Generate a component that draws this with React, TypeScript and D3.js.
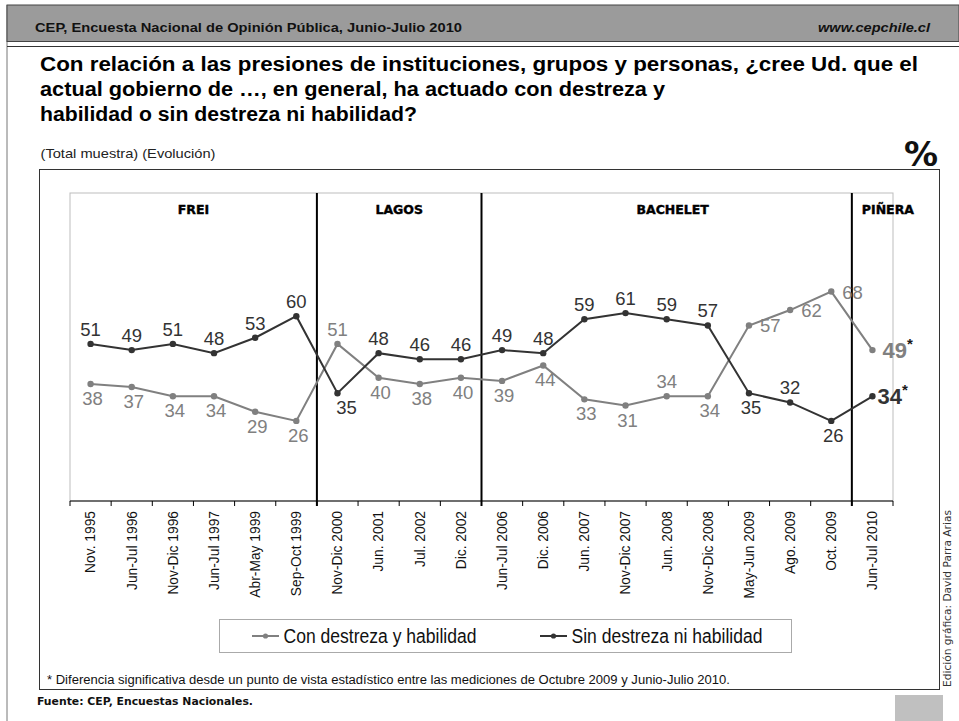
import React from "react";
import * as d3 from "d3";

const categories = [
  "Nov. 1995", "Jun-Jul 1996", "Nov-Dic 1996", "Jun-Jul 1997", "Abr-May 1999", "Sep-Oct 1999",
  "Nov-Dic 2000", "Jun. 2001", "Jul. 2002", "Dic. 2002",
  "Jun-Jul 2006", "Dic. 2006", "Jun. 2007", "Nov-Dic 2007", "Jun. 2008", "Nov-Dic 2008",
  "May-Jun 2009", "Ago. 2009", "Oct. 2009",
  "Jun-Jul 2010",
];
const conDestreza = [38, 37, 34, 34, 29, 26, 51, 40, 38, 40, 39, 44, 33, 31, 34, 34, 57, 62, 68, 49];
const sinDestreza = [51, 49, 51, 48, 53, 60, 35, 48, 46, 46, 49, 48, 59, 61, 59, 57, 35, 32, 26, 34];
const periodNames = ["FREI", "LAGOS", "BACHELET", "PIÑERA"];
const periodStarts = ["Nov. 1995", "Nov-Dic 2000", "Jun-Jul 2006", "Jun-Jul 2010"];
const seriesNames = ["Con destreza y habilidad", "Sin destreza ni habilidad"];
// label side: a = above, b = below, r = right
const conLabelSide = ["b","b","b","b","b","b","a","b","b","b","b","b","b","b","a","b","r","r","r","r"];
const sinLabelSide = ["a","a","a","a","a","a","b","a","a","a","a","a","a","a","a","a","b","a","b","r"];

const FONT = "'Liberation Sans', Arial, sans-serif";
const GRAY = "#808080";
const DARK = "#333333";

export default function App() {
  const x = d3.scaleBand<string>().domain(categories).range([70, 893]);
  const y = d3.scaleLinear().domain([0, 100]).range([501, 193]);
  const cx = (c: string) => (x(c) as number) + x.bandwidth() / 2;
  const line = d3
    .line<number>()
    .x((_, i) => cx(categories[i]))
    .y((d) => y(d));

  const boundaries = categories.map((c) => x(c) as number).concat([893]);
  const sepX = periodStarts.slice(1).map((c) => x(c) as number);
  const periodBounds = periodStarts.map((c, i) => [
    x(c) as number,
    i + 1 < periodStarts.length ? (x(periodStarts[i + 1]) as number) : 893,
  ]);

  const renderLabels = (vals: number[], sides: string[], color: string, key: string) =>
    vals.map((v, i) => {
      const px = cx(categories[i]);
      const py = y(v);
      const last = i === vals.length - 1;
      const side = sides[i];
      if (last) {
        return (
          <text key={key + i} x={px + (key === "con" ? 10 : 5)} y={py + 8} fill={color}
            fontFamily={FONT} fontSize={22} fontWeight="bold">
            {v}
            <tspan fontSize={15} dy={-9} fill="#1a1a1a">*</tspan>
          </text>
        );
      }
      let tx = px, ty = py, anchor = "middle";
      if (side === "a") { ty = py - 8; }
      else if (side === "b") { ty = py + 21; tx = px + (i === 6 ? 9 : 2); }
      else { tx = px + 11; ty = py + 7; anchor = "start"; }
      return (
        <text key={key + i} x={tx} y={ty} fill={color} textAnchor={anchor}
          fontFamily={FONT} fontSize={18.5}>
          {v}
        </text>
      );
    });

  return (
    <svg width={959} height={721} style={{ position: "absolute", left: 0, top: 0, background: "#fff" }}>
      {/* page frame & header */}
      <line x1={7} y1={5} x2={7} y2={721} stroke="#777" strokeWidth={1} />
      <rect x={7} y={5} width={952} height={36.5} fill="#9b9b9b" stroke="#444" strokeWidth={1} />
      <line x1={7} y1={46.5} x2={959} y2={46.5} stroke="#333" strokeWidth={1.2} />
      <text x={35} y={32} fontFamily={FONT} fontSize={13} fontWeight="bold" fill="#111"
        textLength={427} lengthAdjust="spacingAndGlyphs">
        CEP, Encuesta Nacional de Opinión Pública, Junio-Julio 2010
      </text>
      <text x={818} y={32} fontFamily={FONT} fontSize={13} fontWeight="bold"
        fontStyle="italic" fill="#111" textLength={112} lengthAdjust="spacingAndGlyphs">
        www.cepchile.cl
      </text>

      {/* title */}
      <g fontFamily={FONT} fontSize={20} fontWeight="bold" fill="#000">
        <text x={40} y={70.5} textLength={878} lengthAdjust="spacingAndGlyphs">Con relación a las presiones de instituciones, grupos y personas, ¿cree Ud. que el</text>
        <text x={40} y={95.5} textLength={625} lengthAdjust="spacingAndGlyphs">actual gobierno de …, en general, ha actuado con destreza y</text>
        <text x={40} y={120.5} textLength={377} lengthAdjust="spacingAndGlyphs">habilidad o sin destreza ni habilidad?</text>
      </g>
      <text x={40.5} y={158} fontFamily={FONT} fontSize={13} fill="#222"
        textLength={175} lengthAdjust="spacingAndGlyphs">(Total muestra) (Evolución)</text>
      <text x={938} y={165.5} textAnchor="end" fontFamily="'DejaVu Sans', sans-serif" fontSize={34}
        fontWeight="bold" fill="#111">%</text>

      {/* outer chart box */}
      <rect x={39.5} y={169.5} width={900} height={520} fill="#fff" stroke="#333" strokeWidth={1} />

      {/* plot border */}
      <rect x={70} y={193} width={823} height={308} fill="none" stroke="#bdbdbd" strokeWidth={1} />

      {/* x axis */}
      <line x1={70} y1={501} x2={893} y2={501} stroke="#000" strokeWidth={1.2} />
      {boundaries.map((b, i) => (
        <line key={"t" + i} x1={b} y1={501} x2={b} y2={506} stroke="#000" strokeWidth={1} />
      ))}
      {categories.map((c) => (
        <text key={"xl" + c} transform={`translate(${cx(c)},511) rotate(-90)`} textAnchor="end"
          dy="0.35em" fontFamily={FONT} fontSize={13.8} fill="#111">
          {c}
        </text>
      ))}

      {/* period separators */}
      {sepX.map((sx, i) => (
        <line key={"sep" + i} x1={sx} y1={193} x2={sx} y2={506} stroke="#000" strokeWidth={2} />
      ))}
      {periodNames.map((p, i) => {
        const [a, b] = periodBounds[i];
        const isLast = i === periodNames.length - 1;
        return (
          <text key={"p" + p} x={isLast ? a + 10 : (a + b) / 2 + (i === 2 ? 6 : 0)} y={214}
            textAnchor={isLast ? "start" : "middle"} fontFamily="'DejaVu Sans', sans-serif"
            fontSize={12.5} fontWeight="bold" fill="#000" stroke="#000" strokeWidth={0.4}>
            {p}
          </text>
        );
      })}

      {/* labels */}
      {renderLabels(conDestreza, conLabelSide, GRAY, "con")}
      {renderLabels(sinDestreza, sinLabelSide, DARK, "sin")}

      {/* lines */}
      <path d={line(conDestreza) || ""} fill="none" stroke={GRAY} strokeWidth={2} />
      <path d={line(sinDestreza) || ""} fill="none" stroke={DARK} strokeWidth={2} />
      {conDestreza.map((v, i) => (
        <circle key={"cc" + i} cx={cx(categories[i])} cy={y(v)} r={3.2} fill={GRAY} />
      ))}
      {sinDestreza.map((v, i) => (
        <circle key={"sc" + i} cx={cx(categories[i])} cy={y(v)} r={3.2} fill={DARK} />
      ))}

      {/* legend */}
      <rect x={219.5} y={619.5} width={572} height={33} fill="#fff" stroke="#aaa" strokeWidth={1} />
      {seriesNames.map((s, i) => {
        const lx = i === 0 ? 252 : 540;
        const col = i === 0 ? GRAY : DARK;
        return (
          <g key={"lg" + i}>
            <line x1={lx} y1={636} x2={lx + 27} y2={636} stroke={col} strokeWidth={2} />
            <circle cx={lx + 13.5} cy={636} r={2.6} fill={col} />
            <text x={lx + 31.5} y={642.7} fontFamily={FONT} fontSize={19.5} fill="#111"
              textLength={i === 0 ? 193 : 191} lengthAdjust="spacingAndGlyphs">{s}</text>
          </g>
        );
      })}

      {/* footnotes */}
      <text x={47} y={684} fontFamily={FONT} fontSize={12.5} fill="#111"
        textLength={683} lengthAdjust="spacingAndGlyphs">
        * Diferencia significativa desde un punto de vista estadístico entre las mediciones de Octubre 2009 y Junio-Julio 2010.
      </text>
      <text x={37} y={705} fontFamily="'DejaVu Sans', sans-serif" fontSize={10.5} fontWeight="bold" fill="#111"
        textLength={216} lengthAdjust="spacingAndGlyphs">
        Fuente: CEP, Encuestas Nacionales.
      </text>
      <rect x={895} y={695} width={48} height={26} fill="#c0c0c0" />
      <text transform="translate(947,598.5) rotate(-90)" textAnchor="middle" dy="0.35em"
        fontFamily="'DejaVu Sans', sans-serif" fontSize={10} fill="#333"
        textLength={177} lengthAdjust="spacingAndGlyphs">
        Edición gráfica:  David Parra Arias
      </text>
    </svg>
  );
}
